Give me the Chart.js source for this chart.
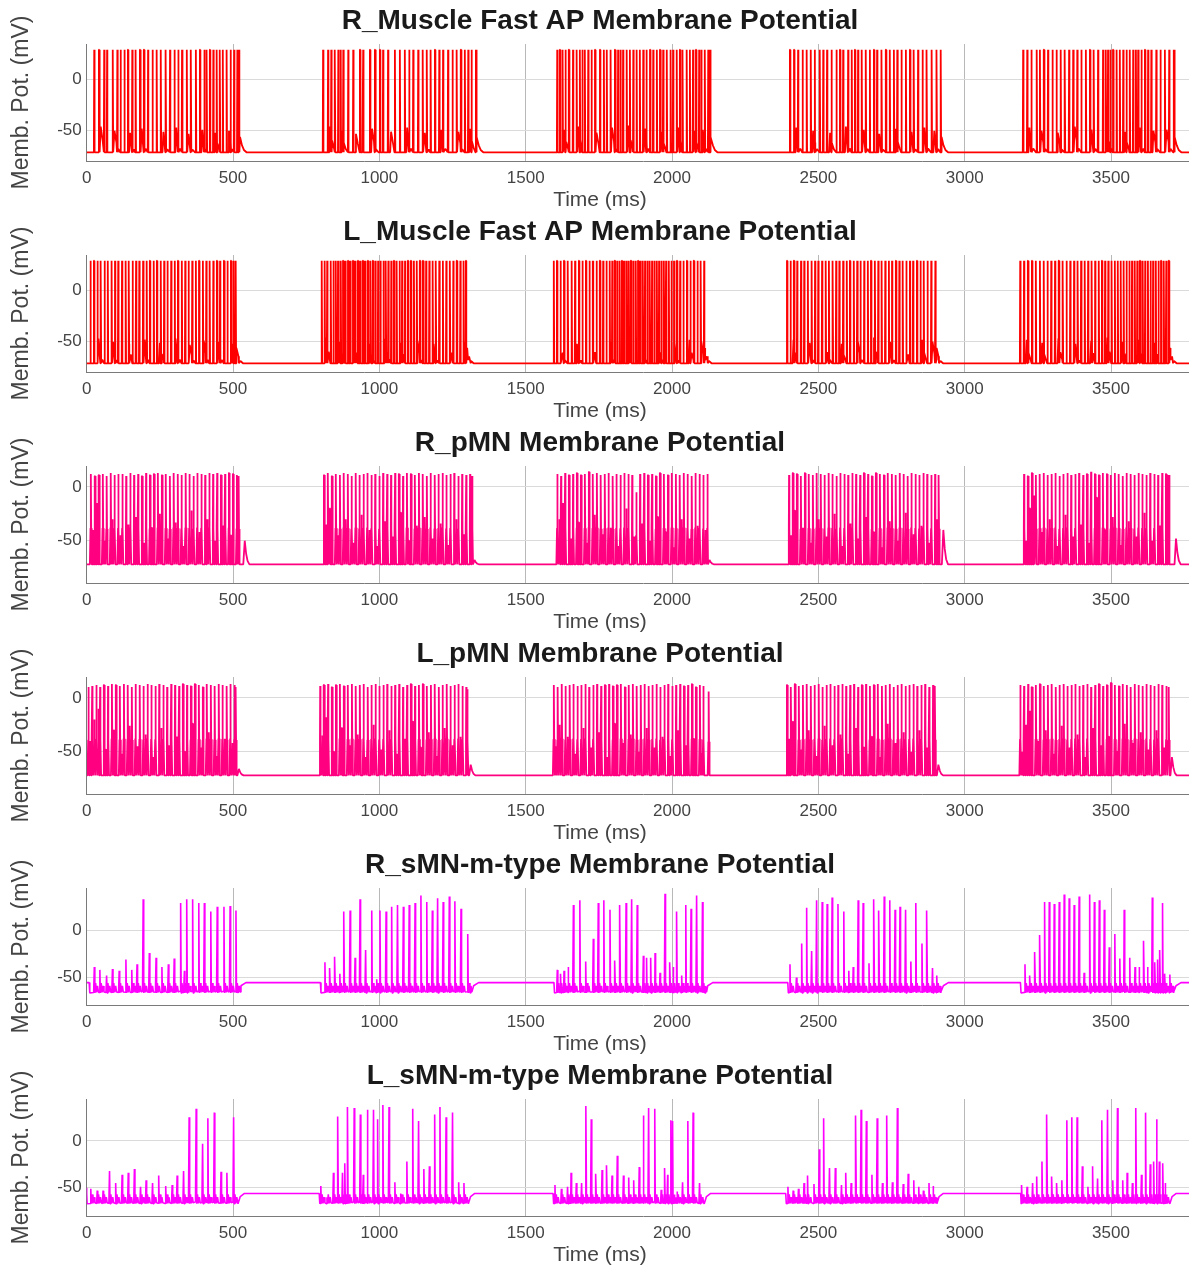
<!DOCTYPE html>
<html>
<head>
<meta charset="utf-8">
<title>Membrane potentials</title>
<script src="https://cdn.jsdelivr.net/npm/chart.js@4.4.1/dist/chart.umd.min.js"></script>
<style>
  html, body { margin: 0; padding: 0; background: #fff; overflow: hidden; width: 1189px; height: 1272px; }
  .panel { position: absolute; left: 0; width: 1200px; height: 211px; }
</style>
</head>
<body>
<script>
// ---------- axes ----------
const X_TICKS = [0, 500, 1000, 1500, 2000, 2500, 3000, 3500];
const Y_TICKS = [-50, 0];
const TIME_END = 3804;

// ---------- R_Muscle Fast AP (spike times, ms) ----------
const R_MUSCLE_BURSTS = [[26, 521], [808, 1330], [1608, 2130], [2403, 2918], [3200, 3715]];
const R_MUSCLE_SPIKES = [
  26,42,60,70,89,105,116,129,141,156,167,182,196,210,225,239,253,270,285,300,313,326,342,356,373,387,402,410,421,433,444,455,465,478,492,504,515,521,
  808,825,836,848,860,868,877,894,911,934,945,968,985,1002,1013,1030,1053,1070,1087,1102,1116,1133,1148,1162,1175,1190,1205,1218,1235,1250,1264,1279,1292,1304,1315,1330,
  1608,1617,1626,1636,1648,1662,1674,1685,1694,1702,1714,1725,1737,1754,1767,1777,1790,1805,1816,1824,1833,1845,1856,1868,1879,1890,1902,1913,1925,1936,1948,1959,1970,1982,1995,2004,2016,2027,2036,2050,2061,2072,2082,2093,2101,2112,2124,2130,
  2403,2417,2431,2446,2460,2474,2488,2505,2517,2530,2545,2562,2574,2585,2602,2614,2625,2636,2648,2662,2676,2690,2701,2716,2731,2744,2758,2770,2784,2799,2813,2826,2841,2856,2870,2887,2904,2918,
  3200,3214,3228,3246,3257,3271,3285,3300,3314,3328,3342,3357,3371,3385,3399,3414,3428,3441,3456,3473,3482,3490,3498,3507,3519,3530,3542,3553,3564,3576,3585,3593,3604,3616,3627,3638,3655,3669,3684,3699,3715
];
const R_MUSCLE_HUMPS = [
  [48,-46],[95,-50],[148,-52],[188,-48],[262,-51],[306,-47],[348,-53],[395,-49],[440,-52],[486,-50],[524,-56],
  [832,-46],[872,-50],[920,-53],[975,-48],[1040,-51],[1095,-47],[1155,-52],[1212,-49],[1270,-51],[1310,-48],[1333,-56],
  [1632,-49],[1680,-46],[1742,-52],[1795,-47],[1852,-45],[1907,-48],[1965,-51],[2022,-47],[2077,-50],[2105,-49],[2133,-56],
  [2425,-47],[2482,-50],[2540,-52],[2594,-46],[2655,-49],[2708,-53],[2765,-48],[2818,-51],[2862,-47],[2896,-50],[2921,-56],
  [3221,-47],[3262,-50],[3318,-52],[3376,-46],[3433,-49],[3487,-48],[3548,-51],[3598,-47],[3645,-50],[3690,-49],[3718,-56]
];

// ---------- L_Muscle Fast AP ----------
const L_MUSCLE_BURSTS = [[13, 509], [803, 1296], [1596, 2110], [2393, 2900], [3190, 3698]];
const L_MUSCLE_SPIKES = [
  13,25,37,48,61,72,85,97,108,121,133,144,157,169,180,193,205,216,229,240,253,265,276,289,301,312,325,337,348,361,373,384,397,409,420,433,445,456,469,481,493,502,509,
  803,813,822,834,843,851,859,868,876,884,893,901,910,918,927,935,944,952,961,970,978,987,996,1004,1014,1022,1031,1041,1050,1059,1069,1078,1088,1098,1108,1118,1128,1139,1149,1160,1171,1182,1193,1205,1217,1229,1241,1253,1265,1277,1288,1296,
  1596,1607,1619,1631,1644,1657,1669,1682,1694,1706,1718,1730,1742,1754,1765,1776,1787,1796,1805,1813,1821,1829,1837,1845,1852,1860,1868,1876,1884,1892,1900,1908,1916,1924,1932,1940,1948,1956,1964,1972,1980,1989,1998,2007,2017,2028,2039,2051,2063,2075,2087,2098,2110,
  2393,2405,2417,2428,2441,2452,2464,2477,2489,2500,2513,2525,2536,2549,2561,2572,2585,2597,2608,2621,2633,2644,2657,2669,2680,2693,2705,2716,2729,2741,2752,2765,2777,2788,2801,2813,2824,2837,2849,2860,2873,2886,2900,
  3190,3203,3216,3230,3243,3257,3270,3283,3296,3309,3322,3335,3348,3361,3374,3386,3398,3410,3422,3434,3446,3458,3469,3480,3491,3502,3513,3523,3533,3543,3553,3563,3572,3581,3590,3599,3608,3617,3626,3635,3644,3653,3662,3671,3680,3689,3698
];
const L_MUSCLE_HUMPS = [
  [40,-47],[90,-50],[145,-52],[198,-48],[250,-51],[305,-47],[352,-53],[400,-49],[450,-50],[498,-52],[512,-56],
  [820,-46],[865,-50],[915,-48],[968,-52],[1020,-47],[1075,-51],[1130,-49],[1185,-52],[1240,-48],[1290,-50],[1300,-56],
  [1620,-48],[1675,-52],[1730,-47],[1790,-50],[1845,-46],[1900,-49],[1955,-47],[2010,-51],[2060,-48],[2100,-50],[2113,-56],
  [2415,-48],[2470,-51],[2525,-47],[2580,-52],[2635,-49],[2690,-46],[2745,-50],[2800,-52],[2855,-48],[2890,-50],[2904,-56],
  [3212,-48],[3265,-51],[3320,-47],[3378,-52],[3432,-49],[3488,-46],[3540,-50],[3595,-48],[3650,-51],[3690,-49],[3702,-56]
];

// ---------- R_pMN ([time ms, peak mV]) ----------
const R_PMN_BURSTS = [[13, 520], [811, 1318], [1608, 2123], [2400, 2912], [3203, 3698]];
const R_PMN_EVENTS = [
  [14,12],[22,-40],[28,10],[36,-15],[42,11],[55,12],[61,-50],[68,10],[82,13],[88,-30],[95,11],[108,12],[115,-45],[122,12],[135,10],[142,-35],[149,13],[162,11],[169,-28],[176,12],[189,10],[196,-52],[203,13],[216,11],[223,-38],[230,12],[243,13],[250,-25],[257,11],[270,12],[277,-48],[284,10],[297,13],[304,-33],[311,12],[324,11],[331,-55],[338,13],[351,12],[358,-22],[365,10],[378,13],[385,-42],[392,12],[405,11],[412,-30],[419,13],[432,12],[439,-50],[446,13],[459,11],[466,-36],[473,12],[486,13],[493,-45],[500,12],[513,11],[519,10],
  [811,11],[818,-35],[824,13],[831,-20],[838,10],[851,12],[858,-45],[865,11],[878,13],[885,-30],[892,12],[905,10],[912,-52],[919,13],[932,11],[939,-26],[946,12],[959,13],[966,-40],[973,11],[986,12],[993,-55],[1000,10],[1013,13],[1020,-32],[1027,12],[1040,11],[1047,-46],[1054,13],[1067,12],[1074,-24],[1081,10],[1094,13],[1101,-50],[1108,12],[1121,11],[1128,-36],[1135,13],[1148,12],[1155,-28],[1162,10],[1175,13],[1182,-48],[1189,11],[1202,12],[1209,-34],[1216,13],[1229,11],[1236,-54],[1243,12],[1256,13],[1263,-30],[1270,10],[1283,12],[1290,-44],[1297,11],[1310,12],[1317,10],
  [1608,12],[1615,-30],[1621,10],[1628,-15],[1635,13],[1648,11],[1655,-48],[1662,12],[1675,13],[1682,-33],[1689,11],[1702,12],[1709,-52],[1716,14],[1729,12],[1736,-26],[1743,13],[1756,11],[1763,-44],[1770,12],[1783,13],[1790,-38],[1797,10],[1810,12],[1817,-55],[1824,11],[1837,13],[1844,-20],[1851,12],[1864,11],[1871,-46],[1878,-5],[1891,12],[1898,-34],[1905,13],[1918,11],[1925,-50],[1932,12],[1945,10],[1952,-28],[1959,13],[1972,12],[1979,-42],[1986,11],[1999,13],[2006,-56],[2013,12],[2026,11],[2033,-30],[2040,13],[2053,12],[2060,-48],[2067,10],[2080,13],[2087,-36],[2094,12],[2107,11],[2114,-40],[2121,12],
  [2400,11],[2407,-45],[2413,13],[2420,-22],[2427,12],[2440,10],[2447,-38],[2454,13],[2467,12],[2474,-52],[2481,11],[2494,13],[2501,-30],[2508,12],[2521,11],[2528,-46],[2535,13],[2548,12],[2555,-25],[2562,10],[2575,13],[2582,-55],[2589,12],[2602,11],[2609,-34],[2616,13],[2629,12],[2636,-48],[2643,11],[2656,13],[2663,-28],[2670,12],[2683,10],[2690,-42],[2697,13],[2710,12],[2717,-56],[2724,11],[2737,13],[2744,-32],[2751,12],[2764,11],[2771,-50],[2778,13],[2791,12],[2798,-24],[2805,10],[2818,13],[2825,-44],[2832,12],[2845,11],[2852,-36],[2859,13],[2872,12],[2879,-52],[2886,11],[2899,12],[2906,-30],[2911,11],
  [3203,12],[3210,-50],[3216,10],[3223,-20],[3230,13],[3237,-8],[3243,11],[3256,12],[3263,-42],[3270,13],[3283,11],[3290,-30],[3297,12],[3310,13],[3317,-55],[3324,10],[3337,12],[3344,-26],[3351,13],[3364,11],[3371,-46],[3378,12],[3391,13],[3398,-35],[3405,11],[3418,12],[3425,-52],[3432,14],[3445,12],[3452,-10],[3459,11],[3472,13],[3479,-40],[3486,12],[3499,11],[3506,-28],[3513,13],[3526,12],[3533,-54],[3540,10],[3553,13],[3560,-32],[3567,12],[3580,11],[3587,-46],[3594,13],[3607,12],[3614,-24],[3621,11],[3634,13],[3641,-50],[3648,12],[3661,11],[3668,-36],[3675,13],[3688,12],[3695,-44],[3698,11]
];
const R_PMN_HUMPS = [[540,-50],[1325,-68],[2128,-68],[2927,-40],[3722,-48]];

// ---------- L_pMN ----------
const L_PMN_BURSTS = [[6, 509], [798, 1301], [1596, 2127], [2393, 2900], [3190, 3698]];
const L_PMN_EVENTS = [
  [6,10],[12,-40],[19,11],[26,-20],[33,12],[40,-10],[46,10],[59,12],[66,-48],[73,11],[86,13],[93,-30],[100,12],[113,11],[120,-52],[127,13],[140,12],[147,-26],[154,10],[167,13],[174,-45],[181,12],[194,11],[201,-34],[208,13],[221,12],[228,-55],[235,11],[248,13],[255,-28],[262,12],[275,10],[282,-44],[289,13],[302,12],[309,-36],[316,11],[329,13],[336,-50],[343,12],[356,11],[363,-24],[370,13],[383,12],[390,-46],[397,10],[410,13],[417,-32],[424,12],[437,11],[444,-54],[451,13],[464,12],[471,-38],[478,11],[491,13],[498,-42],[505,12],[509,10],
  [798,11],[805,-35],[811,12],[818,-18],[825,13],[838,10],[845,-50],[852,12],[865,13],[872,-28],[879,11],[892,12],[899,-44],[906,13],[919,11],[926,-34],[933,12],[946,13],[953,-55],[960,10],[973,12],[980,-25],[987,13],[1000,11],[1007,-48],[1014,12],[1027,13],[1034,-30],[1041,11],[1054,12],[1061,-52],[1068,13],[1081,10],[1088,-38],[1095,12],[1108,13],[1115,-22],[1122,11],[1135,12],[1142,-46],[1149,13],[1162,11],[1169,-32],[1176,12],[1189,13],[1196,-54],[1203,10],[1216,12],[1223,-28],[1230,13],[1243,11],[1250,-44],[1257,12],[1270,13],[1277,-36],[1284,11],[1297,10],[1301,8],
  [1596,12],[1603,-45],[1609,10],[1616,-25],[1623,13],[1636,11],[1643,-36],[1650,12],[1663,13],[1670,-52],[1677,11],[1690,12],[1697,-28],[1704,13],[1717,10],[1724,-46],[1731,12],[1744,13],[1751,-32],[1758,11],[1771,12],[1778,-55],[1785,13],[1798,11],[1805,-24],[1812,12],[1825,13],[1832,-42],[1839,10],[1852,12],[1859,-34],[1866,13],[1879,11],[1886,-50],[1893,12],[1906,13],[1913,-28],[1920,11],[1933,12],[1940,-46],[1947,13],[1960,10],[1967,-36],[1974,12],[1987,13],[1994,-54],[2001,11],[2014,12],[2021,-30],[2028,13],[2041,11],[2048,-44],[2055,12],[2068,13],[2075,-38],[2082,10],[2095,12],[2102,-52],[2107,11],[2125,6],
  [2393,12],[2400,-38],[2406,10],[2413,-22],[2420,13],[2433,11],[2440,-48],[2447,12],[2460,13],[2467,-30],[2474,11],[2487,12],[2494,-54],[2501,13],[2514,10],[2521,-26],[2528,12],[2541,13],[2548,-44],[2555,11],[2568,12],[2575,-34],[2582,13],[2595,11],[2602,-52],[2609,12],[2622,13],[2629,-28],[2636,10],[2649,12],[2656,-46],[2663,13],[2676,11],[2683,-36],[2690,12],[2703,13],[2710,-55],[2717,11],[2730,12],[2737,-24],[2744,13],[2757,10],[2764,-42],[2771,12],[2784,13],[2791,-32],[2798,11],[2811,12],[2818,-50],[2825,13],[2838,11],[2845,-30],[2852,12],[2865,13],[2872,-46],[2879,10],[2892,12],[2898,11],
  [3190,12],[3197,-50],[3203,11],[3210,-25],[3217,13],[3224,-12],[3230,10],[3243,12],[3250,-40],[3257,13],[3270,11],[3277,-30],[3284,12],[3297,13],[3304,-52],[3311,10],[3324,12],[3331,-26],[3338,13],[3351,11],[3358,-46],[3365,12],[3378,13],[3385,-34],[3392,11],[3405,12],[3412,-55],[3419,13],[3432,10],[3439,-28],[3446,12],[3459,13],[3466,-44],[3473,11],[3486,12],[3493,-36],[3500,14],[3513,12],[3520,-50],[3527,11],[3540,13],[3547,-24],[3554,12],[3567,10],[3574,-42],[3581,13],[3594,12],[3601,-32],[3608,11],[3621,13],[3628,-48],[3635,12],[3648,11],[3655,-30],[3662,13],[3675,12],[3682,-46],[3689,11],[3697,10]
];
const L_PMN_HUMPS = [[520,-66],[1312,-62],[2910,-62],[3708,-55]];

// ---------- R_sMN-m-type ----------
const R_SMN_BURSTS = [[9, 515], [799, 1310], [1597, 2110], [2396, 2915], [3191, 3710]];
const R_SMN_EVENTS = [
  [26,-39],[45,-42],[68,-48],[88,-41],[111,-43],[134,-31],[154,-42],[172,-36],[193,33],[214,-24],[237,-29],[257,-39],[279,-36],[299,-30],[321,29],[334,-43],[342,33],[362,33],[383,29],[402,29],[424,20],[446,25],[469,25],[490,26],[510,21],
  [814,-34],[831,-40],[848,-28],[865,-46],[879,20],[900,21],[917,-29],[934,33],[953,-21],[974,21],[991,-52],[1002,21],[1023,20],[1042,25],[1062,27],[1082,25],[1102,27],[1122,29],[1142,37],[1162,30],[1181,21],[1199,34],[1218,30],[1239,36],[1258,31],[1279,23],[1302,-4],
  [1608,-42],[1619,-46],[1631,-43],[1645,-39],[1663,27],[1685,32],[1705,-33],[1731,-9],[1748,29],[1767,32],[1788,22],[1805,-32],[1822,27],[1843,29],[1862,33],[1881,27],[1902,-27],[1913,-29],[1927,-29],[1942,-24],[1959,-45],[1976,39],[1993,-34],[2004,-39],[2016,20],[2033,-48],[2047,27],[2065,23],[2084,37],[2104,30],
  [2403,-36],[2425,-50],[2443,-14],[2460,24],[2477,-22],[2494,32],[2513,30],[2530,28],[2547,35],[2567,28],[2587,20],[2604,-43],[2619,-39],[2636,32],[2653,29],[2673,-35],[2690,33],[2707,21],[2725,36],[2744,32],[2762,22],[2779,25],[2798,22],[2816,-33],[2833,29],[2854,-14],[2871,21],[2890,-40],[2905,-48],
  [3206,-36],[3223,-48],[3240,-23],[3257,-5],[3273,30],[3289,30],[3306,28],[3323,30],[3340,38],[3357,34],[3374,27],[3391,36],[3408,-45],[3427,38],[3443,30],[3460,32],[3477,22],[3494,-18],[3513,-4],[3530,-30],[3545,22],[3564,-29],[3582,-39],[3596,-39],[3612,-11],[3625,-39],[3641,35],[3650,-34],[3659,-31],[3667,-21],[3676,29],[3684,-46],[3701,-47]
];

// ---------- L_sMN-m-type ----------
const L_SMN_BURSTS = [[0, 514], [795, 1301], [1594, 2107], [2389, 2902], [3192, 3698]];
const L_SMN_EVENTS = [
  [14,-51],[36,-53],[56,-53],[78,-32],[99,-45],[121,-36],[142,-34],[163,-30],[184,-49],[203,-42],[225,-45],[246,-37],[270,-48],[292,-47],[309,-37],[331,-32],[350,25],[374,34],[396,-3],[414,24],[436,30],[459,-33],[479,-34],[502,25],
  [800,-48],[821,-60],[843,-34],[858,26],[874,-34],[882,-24],[892,36],[914,35],[935,28],[945,-36],[959,33],[980,33],[994,23],[1012,38],[1033,36],[1053,-44],[1073,-56],[1094,-22],[1114,34],[1134,21],[1152,-30],[1171,-27],[1189,28],[1207,36],[1228,25],[1250,30],[1271,-44],[1289,-45],
  [1600,-47],[1622,-51],[1643,-49],[1655,-34],[1673,-45],[1691,-45],[1706,37],[1724,23],[1740,-35],[1761,-31],[1777,-26],[1795,-37],[1813,-16],[1834,-37],[1852,-39],[1869,-42],[1888,-28],[1902,27],[1920,35],[1941,34],[1963,-52],[1975,-29],[1985,-36],[1996,22],[2003,21],[2017,-54],[2036,-44],[2054,21],[2072,30],[2094,-45],
  [2396,-49],[2414,-53],[2432,-51],[2451,-45],[2463,-37],[2485,-46],[2503,-9],[2518,24],[2538,-29],[2558,-29],[2579,-47],[2594,-34],[2612,-45],[2628,27],[2646,33],[2664,21],[2683,-36],[2701,24],[2719,-45],[2734,27],[2753,-44],[2770,35],[2790,-46],[2807,-35],[2826,-42],[2843,-49],[2859,-53],[2878,-45],[2892,-48],
  [3195,-47],[3213,-49],[3232,-45],[3246,-38],[3264,-22],[3281,28],[3298,-38],[3315,-45],[3332,-42],[3349,22],[3366,25],[3384,25],[3402,-27],[3421,-49],[3437,-27],[3454,-40],[3469,22],[3488,33],[3506,-42],[3522,35],[3540,-42],[3555,-34],[3573,-45],[3585,35],[3604,-36],[3618,30],[3634,-25],[3646,-22],[3656,23],[3665,-22],[3677,-24],[3685,-45]
];

// ---------- drawing ----------
const FONT = "'Liberation Sans', Arial, Helvetica, sans-serif";
Chart.defaults.font.family = FONT;

// Spike outlines as [time offset ms, fraction of the way from trough to peak]
const SHAPES = {
  fast:   [[-1.5, 0], [-0.3, 1], [0.3, 1], [1.5, 0]],
  broad:  [[-3.2, 0], [-1.0, 0.4], [-0.2, 1], [0.4, 1], [1.4, 0.4], [3.2, 0]],
  narrow: [[-2.2, 0.02], [0, 1], [1.8, 0]]
};

const PANELS = [
  { title: 'R_Muscle Fast AP Membrane Potential', color: '#ff0000', yMin: -79.5, yMax: 34.5,
    bursts: R_MUSCLE_BURSTS, events: R_MUSCLE_SPIKES.map(t => [t, 29]), humps: R_MUSCLE_HUMPS,
    start: -71, rest: -71, trough: -71, shape: 'fast', rise: 3, fall: 22, width: 1.8 },
  { title: 'L_Muscle Fast AP Membrane Potential', color: '#ff0000', yMin: -79.5, yMax: 34.5,
    bursts: L_MUSCLE_BURSTS, events: L_MUSCLE_SPIKES.map(t => [t, 29]), humps: L_MUSCLE_HUMPS,
    start: -71, rest: -71, trough: -71, shape: 'fast', rise: 3, fall: 22, width: 1.8 },
  { title: 'R_pMN Membrane Potential', color: '#ff0080', yMin: -89.3, yMax: 19.4,
    bursts: R_PMN_BURSTS, events: R_PMN_EVENTS, humps: R_PMN_HUMPS,
    start: -72, rest: -72, trough: -72, shape: 'broad', rise: 5, fall: 16, width: 1.8 },
  { title: 'L_pMN Membrane Potential', color: '#ff0080', yMin: -89.3, yMax: 19.4,
    bursts: L_PMN_BURSTS, events: L_PMN_EVENTS, humps: L_PMN_HUMPS,
    start: -72, rest: -72, trough: -72, shape: 'broad', rise: 5, fall: 16, width: 1.8 },
  { title: 'R_sMN-m-type Membrane Potential', color: '#ff00ff', yMin: -79.3, yMax: 45,
    bursts: R_SMN_BURSTS, events: R_SMN_EVENTS, humps: [],
    start: -55.5, rest: -55.5, trough: -66.5, ripple: -56, settle: 26, shape: 'narrow', rise: 3, fall: 10, width: 1.6 },
  { title: 'L_sMN-m-type Membrane Potential', color: '#ff00ff', yMin: -80, yMax: 44.5,
    bursts: L_SMN_BURSTS, events: L_SMN_EVENTS, humps: [],
    start: -50, rest: -56, trough: -67, ripple: -57, settle: 22, shape: 'narrow', rise: 3, fall: 10, width: 1.6 }
];

function buildTrace(p) {
  const pts = [{ x: 0, y: p.start }];
  const lo = p.trough;
  if (p.rest !== p.trough) {
    for (const [s, e] of p.bursts) {
      pts.push({ x: Math.max(s - 0.5, 0), y: p.rest });
      pts.push({ x: s + 1.5, y: lo });
      pts.push({ x: e + 3, y: lo });
      pts.push({ x: e + 3 + p.settle * 0.35, y: p.rest - (p.rest - lo) * 0.3 });
      pts.push({ x: e + 3 + p.settle, y: p.rest });
    }
  }
  pts.push({ x: TIME_END, y: p.rest });
  const shape = SHAPES[p.shape];
  for (const [t, v] of p.events) {
    for (const [dt, f] of shape) pts.push({ x: t + dt, y: lo + f * (v - lo) });
    if (p.ripple !== undefined) {
      pts.push({ x: t + 4.5, y: p.ripple });
      pts.push({ x: t + 7.5, y: lo + 0.5 });
      pts.push({ x: t + 11, y: p.ripple - 3 });
      pts.push({ x: t + 14, y: lo + 1 });
    }
  }
  for (const [t, v] of p.humps) {
    pts.push({ x: t - p.rise, y: lo });
    pts.push({ x: t, y: v });
    pts.push({ x: t + p.fall * 0.3, y: lo + (v - lo) * 0.45 });
    pts.push({ x: t + p.fall * 0.6, y: lo + (v - lo) * 0.15 });
    pts.push({ x: t + p.fall, y: lo });
  }
  pts.sort((a, b) => a.x - b.x);
  return pts;
}

PANELS.forEach((p, i) => {
  const box = document.createElement('div');
  box.className = 'panel';
  box.style.top = (211 * i) + 'px';
  const canvas = document.createElement('canvas');
  canvas.width = 1200;
  canvas.height = 211;
  box.appendChild(canvas);
  document.body.appendChild(box);

  new Chart(canvas, {
    type: 'line',
    data: {
      datasets: [{
        data: buildTrace(p),
        borderColor: p.color,
        borderWidth: p.width,
        borderJoinStyle: 'bevel',
        pointRadius: 0,
        tension: 0,
        fill: false
      }]
    },
    options: {
      responsive: false,
      animation: false,
      parsing: false,
      normalized: true,
      devicePixelRatio: 1,
      events: [],
      layout: { padding: 0 },
      plugins: {
        legend: { display: false },
        tooltip: { enabled: false },
        title: {
          display: true, text: p.title, color: '#1a1a1a',
          font: { family: FONT, size: 28, weight: 'bold', lineHeight: 1.2 },
          padding: { top: 4, bottom: 6.4 }
        },
        subtitle: {
          display: true, position: 'bottom', text: 'Time (ms)', color: '#444',
          font: { family: FONT, size: 21, lineHeight: 1.0 },
          padding: { top: 0, bottom: 0 }
        }
      },
      scales: {
        x: {
          type: 'linear', min: 0, max: TIME_END,
          afterBuildTicks: s => { s.ticks = X_TICKS.map(v => ({ value: v })); },
          afterFit: s => { s.height = 29; },
          ticks: { color: '#444', font: { family: FONT, size: 17 }, padding: 7, maxRotation: 0, autoSkip: false,
                   callback: v => String(v) },
          grid: { color: '#b8b8b8', lineWidth: 1, drawTicks: false },
          border: { color: '#7a7a7a', width: 1 }
        },
        y: {
          type: 'linear', min: p.yMin, max: p.yMax,
          afterBuildTicks: s => { s.ticks = Y_TICKS.map(v => ({ value: v })); },
          afterFit: s => { s.width = 86.7; },
          ticks: { color: '#444', font: { family: FONT, size: 17 }, padding: 5, callback: v => String(v) },
          grid: { color: '#dadada', lineWidth: 1, drawTicks: false },
          border: { color: '#7a7a7a', width: 1 },
          title: {
            display: true, text: 'Memb. Pot. (mV)', color: '#444',
            font: { family: FONT, size: 23, lineHeight: 1.2 },
            padding: { top: 8, bottom: 0 }
          }
        }
      }
    }
  });
});
</script>
</body>
</html>
